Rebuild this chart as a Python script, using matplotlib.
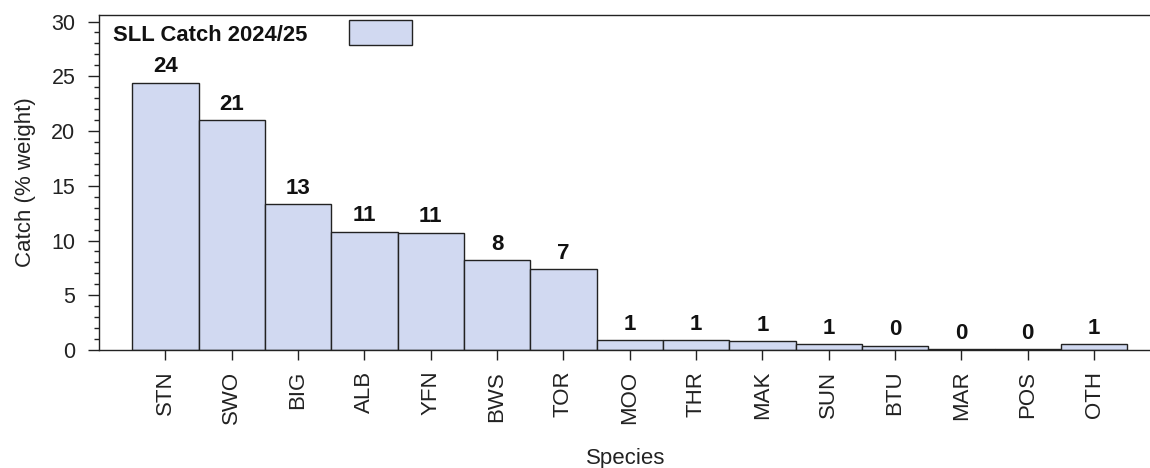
import matplotlib.pyplot as plt
from matplotlib.patches import Rectangle
from matplotlib.ticker import MultipleLocator

plt.rcParams['font.family'] = ['Liberation Sans', 'DejaVu Sans']

especies = ['STN', 'SWO', 'BIG', 'ALB', 'YFN', 'BWS', 'TOR', 'MOO', 'THR',
            'MAK', 'SUN', 'BTU', 'MAR', 'POS', 'OTH']
captura = [24.4, 21.0, 13.3, 10.8, 10.7, 8.2, 7.4, 0.9, 0.9,
           0.8, 0.55, 0.4, 0.1, 0.1, 0.55]
rotulos = [24, 21, 13, 11, 11, 8, 7, 1, 1, 1, 1, 0, 0, 0, 1]

cor_barra = '#D1D9F1'
cor_borda = '#222222'

fig = plt.figure(figsize=(11.5, 4.68), dpi=100)
ax = fig.add_axes([0.0861, 0.2521, 0.916, 0.7159])

x = list(range(len(especies)))
barras = ax.bar(x, captura, width=1.0, color=cor_barra, edgecolor=cor_borda,
                linewidth=1.0)

# rotulos acima das barras
for xi, yi, r in zip(x, captura, rotulos):
    ax.annotate(str(r), (xi, yi), xytext=(0, 7.5), textcoords='offset points',
                ha='center', va='baseline', fontsize=16, fontweight='bold',
                color='#111111')

ax.set_xlim(-1, 14.88)
ax.set_ylim(0, 30.6)
ax.set_xticks(x)
ax.set_xticklabels(especies, rotation=90, fontsize=16, color='#222222')
ax.yaxis.set_major_locator(MultipleLocator(5))
ax.yaxis.set_minor_locator(MultipleLocator(1))
ax.tick_params(axis='y', which='major', length=8, width=1, labelsize=15.5,
               colors='#222222', pad=9)
ax.tick_params(axis='y', which='minor', length=3.6, width=1, colors='#222222')
ax.tick_params(axis='x', which='major', length=7, width=1, colors='#222222', pad=8)

for lado in ax.spines.values():
    lado.set_color('#222222')
    lado.set_linewidth(1.0)

ax.set_ylabel('Catch (% weight)', fontsize=16, color='#222222', labelpad=11)
ax.set_xlabel('Species', fontsize=16, color='#222222', labelpad=17)

# legenda
ax.text(0.0133, 0.94, 'SLL Catch 2024/25', transform=ax.transAxes,
        fontsize=15.8, fontweight='bold', color='#111111', va='center', ha='left')
ax.add_patch(Rectangle((0.237, 0.910), 0.06, 0.0746, transform=ax.transAxes,
                       facecolor=cor_barra, edgecolor=cor_borda, linewidth=1.0,
                       clip_on=False))

fig.savefig('out.png', dpi=100)
